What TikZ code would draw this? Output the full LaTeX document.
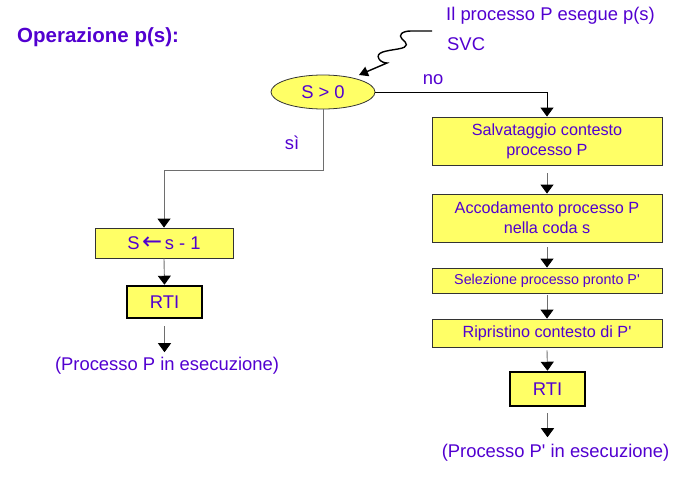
\documentclass[tikz,border=0pt]{standalone}
\usepackage{fontspec}
\setmainfont{Liberation Sans}[Ligatures=TeXOff]
\newfontfamily\symbfont{DejaVu Sans}
\usetikzlibrary{arrows.meta,shapes.geometric}
\definecolor{txt}{RGB}{82,0,208}
\definecolor{boxfill}{RGB}{255,255,102}
\definecolor{lin}{RGB}{110,110,110}
\begin{document}
\begin{tikzpicture}[x=1pt,y=-1pt,
  fsA/.style={font=\fontsize{18.4}{21}\selectfont},
  fsB/.style={font=\fontsize{16.2}{20}\selectfont},
  fsC/.style={font=\fontsize{14.3}{17}\selectfont},
  box/.style={draw=black!80, line width=0.8pt, fill=boxfill, text=txt, inner sep=0pt, align=center},
  rti/.style={box, draw=black, line width=2.5pt},
  lbl/.style={text=txt, inner sep=0pt},
  arr/.style={draw=lin, line width=0.9pt, -{Triangle[width=13pt,length=9pt,color=black]}},
  arrk/.style={draw=black, line width=0.9pt, -{Triangle[width=13pt,length=9pt,color=black]}}]
\useasboundingbox (0,0) rectangle (692,476);
% titles
\node[lbl, anchor=west, font=\bfseries\fontsize{20.5}{24}\selectfont] (title) at (17,37) {Operazione p(s):};
\node[lbl, anchor=west, fsA] (call) at (446,16) {Il processo P esegue p(s)};
\node[lbl, anchor=west, fsA] (svc) at (447,44) {SVC};
% decision
\node[ellipse, draw=black!80, line width=0.8pt, fill=boxfill, minimum width=104pt, minimum height=34pt, inner sep=0pt, text=txt, fsA] (cond) at (323,92) {S > 0};
\node[lbl, fsA] (no) at (433,80) {no};
\node[lbl, fsA] (si) at (292,143) {sì};
% left branch
\node[box, minimum width=138pt, minimum height=30pt, fsA] (dec) at (164,243) {S\hspace{2.5pt}{\symbfont\fontsize{24}{24}\selectfont\raisebox{-0.5pt}{←}}\hspace{2.5pt}s - 1};
\node[rti, minimum width=75pt, minimum height=32pt, fsA] (rtiL) at (164.5,302) {RTI};
\node[lbl, fsA] (endL) at (167,366) {(Processo P in esecuzione)};
% right branch
\node[box, minimum width=230pt, minimum height=48pt, fsB] (salv) at (547,141) {Salvataggio contesto\\processo P};
\node[box, minimum width=230pt, minimum height=48pt, fsB] (acc) at (547,218) {Accodamento processo P\\nella coda s};
\node[box, minimum width=230pt, minimum height=25pt, fsC] (sel) at (547,280.5) {Selezione processo pronto P'};
\node[box, minimum width=230pt, minimum height=28pt, fsB] (rip) at (547,333) {Ripristino contesto di P'};
\node[rti, minimum width=75pt, minimum height=34pt, fsA] (rtiR) at (547.5,389) {RTI};
\node[lbl, fsA] (endR) at (555.5,453) {(Processo P' in esecuzione)};
% squiggle
\coordinate (sq) at (432,31);
\coordinate (tip) at (359,75);
\draw[black, line width=1.4pt, -{Triangle[width=10pt,length=9pt]}]
  (sq) -- (411,31) .. controls (402,31) and (398,35) .. (402,39)
  .. controls (407,43) and (410,47) .. (398,49)
  .. controls (386,51) and (375,52) .. (379,59)
  .. controls (381,62) and (385,63) .. (387,63) -- (tip);
% connectors
\draw[arrk] (cond.east) -| (salv.north);
\draw[arr] (cond.south) -- ++(0,61) -| (dec.north);
\draw[arr] (dec.south) -- (rtiL.north);
\draw[arr] ([yshift=-7pt]rtiL.south) -- ([yshift=5pt]rtiL.south |- endL.north);
\draw[arr] ([yshift=-8pt]salv.south) -- (acc.north);
\draw[arr] ([yshift=-5pt]acc.south) -- (sel.north);
\draw[arr] ([yshift=-2pt]sel.south) -- (rip.north);
\draw[arr] ([yshift=-3pt]rip.south) -- (rtiR.north);
\draw[arr] ([yshift=-6pt]rtiR.south) -- ([yshift=7pt]rtiR.south |- endR.north);
\end{tikzpicture}
\end{document}
